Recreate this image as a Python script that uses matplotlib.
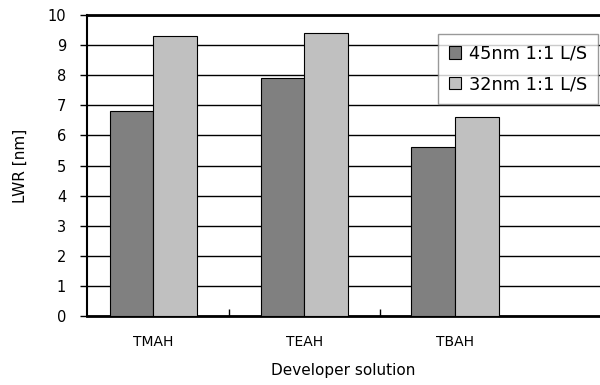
import matplotlib
matplotlib.use('Agg')
import matplotlib.pyplot as plt
import numpy as np

solutions = ['TMAH', 'TEAH', 'TBAH']
lwr_45nm = [6.8, 7.9, 5.6]
lwr_32nm = [9.3, 9.4, 6.6]

plt.rcParams['font.family'] = 'DejaVu Sans'

fig = plt.figure(figsize=(6, 3.85), dpi=100)
ax = fig.add_axes([87 / 600, 1 - 316 / 385, 513 / 600, 301 / 385])

x = np.arange(len(solutions))
width = 0.29
ax.bar(x - width / 2, lwr_45nm, width, color='#808080', edgecolor='black',
       linewidth=0.8, label='45nm 1:1 L/S', zorder=3)
ax.bar(x + width / 2, lwr_32nm, width, color='#c0c0c0', edgecolor='black',
       linewidth=0.8, label='32nm 1:1 L/S', zorder=3)

ax.set_xlim(-0.44, 2.96)
ax.set_ylim(0, 10)
ax.set_yticks(range(0, 11))
ax.yaxis.grid(True, color='black', linewidth=1.0, zorder=0)
ax.tick_params(axis='y', direction='out', length=5, width=1, labelsize=10.5, pad=10)

ax.set_xticks(x)
ax.set_xticklabels(solutions, fontsize=10)
ax.tick_params(axis='x', which='major', length=0, pad=14)
ax.set_xticks([0.5, 1.5], minor=True)
ax.tick_params(axis='x', which='minor', direction='in', length=5, width=1)

for side in ['top', 'bottom']:
    ax.spines[side].set_linewidth(2)
ax.spines['left'].set_linewidth(1.5)
ax.spines['right'].set_visible(False)

ax.set_ylabel('LWR [nm]', fontsize=11, labelpad=14)
ax.set_xlabel('Developer solution', fontsize=11, labelpad=10)

leg = ax.legend(loc='upper right', bbox_to_anchor=(598 / 600, 1 - 34 / 385),
                bbox_transform=fig.transFigure, borderaxespad=0, fontsize=12.8,
                frameon=True, fancybox=False, handlelength=0.7, handleheight=0.7,
                handletextpad=0.45, borderpad=0.6, labelspacing=0.7)
leg.get_frame().set_edgecolor('#808080')
leg.get_frame().set_linewidth(1)
leg.set_zorder(5)

plt.savefig('out.png', dpi=100)
